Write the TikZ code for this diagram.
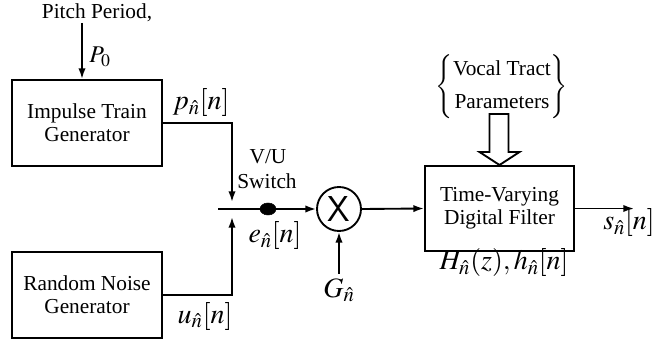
\documentclass[tikz,border=0pt]{standalone}
\usepackage{mathptmx}
\usepackage{fontspec}
\setmainfont{Liberation Serif}
\usetikzlibrary{arrows.meta,calc,shapes.geometric}
\begin{document}
\begin{tikzpicture}[x=0.75pt,y=-0.75pt,
  every node/.style={font=\fontsize{16}{18}\selectfont},
  mlbl/.style={font=\fontsize{21}{23}\selectfont,inner sep=1pt},
  blk/.style={draw,line width=1.5pt,minimum width=112.5pt,minimum height=64.5pt,align=center,inner sep=2pt},
  arr/.style={line width=1.4pt,-{Latex[length=8pt,width=5.5pt]}}]
\useasboundingbox (0,0) rectangle (655,341);
% blocks
\node[blk] (imp) at (87,123) {Impulse Train\\[-1pt]Generator};
\node[blk] (rnd) at (87,295) {Random Noise\\[-1pt]Generator};
\node[blk,minimum width=111.75pt,minimum height=63.75pt] (flt) at (499.5,208.5) {Time-Varying\\[-1pt]Digital Filter};
\node[draw,circle,line width=1.4pt,minimum size=33pt,inner sep=0pt,font=\fontsize{27}{29}\sffamily] (mul) at (339,209) {X};
\node[draw,fill=black,ellipse,minimum width=12pt,minimum height=9pt,inner sep=0pt] (dot) at (268,209) {};
% labels
\node (pitch) at (97,13) {Pitch Period,};
\node[mlbl,font=\fontsize{18}{20}\selectfont] (p0) at (100,57) {$P_0$};
\node[mlbl] (pn) at (201,103) {$p_{\hat n}[n]$};
\node (vu) at (268,157) {V/U};
\node (sw) at (267,181) {Switch};
\node[mlbl] (en) at (275,236) {$e_{\hat n}[n]$};
\node[mlbl] (un) at (205,316) {$u_{\hat n}[n]$};
\node[mlbl] (gn) at (339,290) {$G_{\hat n}$};
\node[mlbl] (sn) at (629,223) {$s_{\hat n}[n]$};
\node[mlbl] (hn) at (504,263) {$H_{\hat n}(z),h_{\hat n}[n]$};
\node (vt) at (502,87) {$\left\{\begin{array}{@{}c@{}}\mbox{Vocal Tract}\\[7pt]\mbox{Parameters}\end{array}\right\}$};
% coordinates
\coordinate (pin) at (82,23);
\coordinate (vtip) at (232,202);
\coordinate (utip) at (232,217);
\coordinate (swst) at (218,209);
\coordinate (out) at (634,208.5);
% connectors
\draw[arr] (pin) -- (pin |- imp.north);
\draw[arr] (imp.east) -| (vtip);
\draw[arr] (rnd.east) -| (utip);
\draw[arr] (swst) -- (mul.west);
\draw[arr] (mul.east) -- (flt.west);
\draw[arr] (flt.east) -- (out);
\draw[arr] ($(mul.south)+(0,42)$) -- (mul.south);
% hollow arrow
\draw[line width=1.4pt,fill=white,line join=miter]
  ($(flt.north)+(-10,-51)$) -- ($(flt.north)+(9,-51)$) -- ($(flt.north)+(9,-13)$)
  -- ($(flt.north)+(20,-13)$) -- (flt.north) -- ($(flt.north)+(-20,-13)$)
  -- ($(flt.north)+(-10,-13)$) -- cycle;
\end{tikzpicture}
\end{document}
